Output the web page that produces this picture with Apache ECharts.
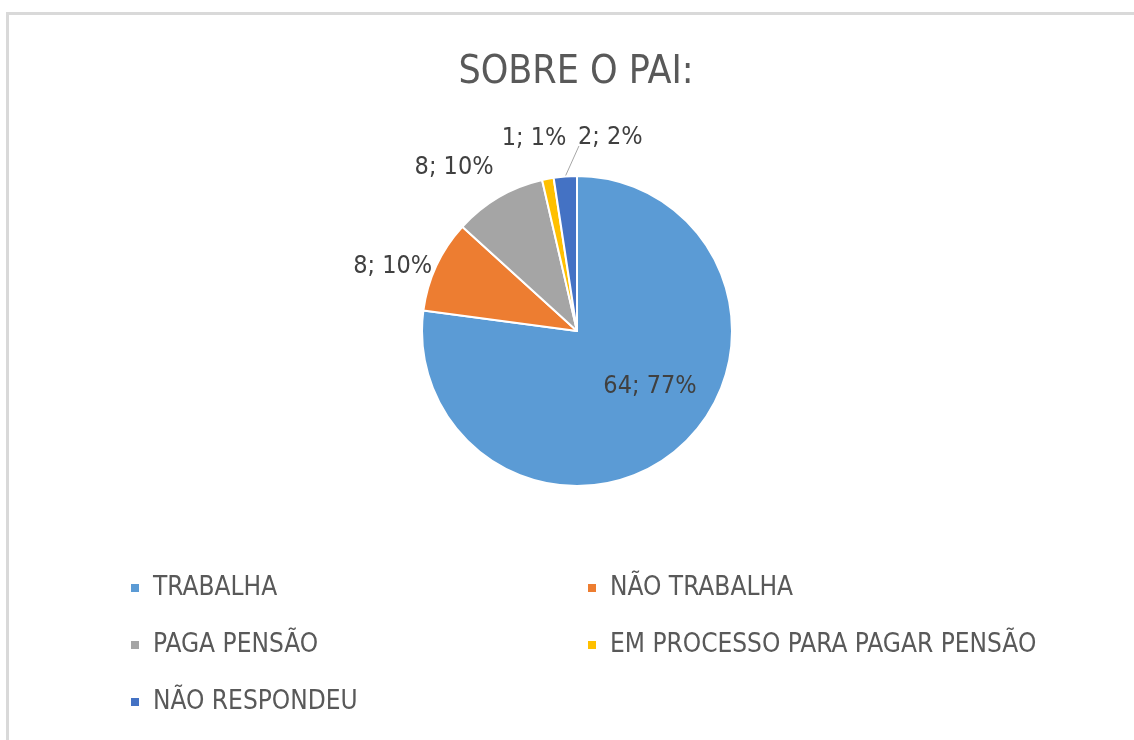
<!DOCTYPE html>
<html>
<head>
<meta charset="utf-8">
<script src="https://cdn.jsdelivr.net/npm/echarts@6/dist/echarts.min.js"></script>
<style>
  html, body { margin: 0; padding: 0; background: #fff; }
  #chart { position: absolute; left: 0; top: 0; width: 1134px; height: 740px; }
  #frame { position: absolute; left: 6px; top: 12px; right: 0; bottom: 0;
           border-top: 3px solid #d9d9d9; border-left: 3px solid #d9d9d9; pointer-events: none; }
</style>
</head>
<body>
<div id="chart"></div>
<div id="frame"></div>
<script>
// dados do gráfico
const categorias = ['TRABALHA', 'NÃO TRABALHA', 'PAGA PENSÃO', 'EM PROCESSO PARA PAGAR PENSÃO', 'NÃO RESPONDEU'];
const valores = [64, 8, 8, 1, 2];
const cores = ['#5B9BD5', '#ED7D31', '#A5A5A5', '#FFC000', '#4472C4'];

const fonte = "'DejaVu Sans Condensed', 'Liberation Sans Narrow', 'DejaVu Sans', sans-serif";

// ajuste fino dos rótulos (estilo "melhor ajuste" do Excel)
const ajusteRotulo = [[20, -5], [12, 4], [8, -23], [29, -32], [87, -31]];

const chart = echarts.init(document.getElementById('chart'));

const dados = categorias.map((nome, i) => {
  const item = { name: nome, value: valores[i], itemStyle: { color: cores[i] } };
  if (i === 0) {
    item.label = { position: 'inside' };
  }
  if (i === 4) {
    item.labelLine = { show: true };
  }
  return item;
});

const legendaBase = {
  orient: 'vertical',
  top: 568,
  icon: 'rect',
  itemWidth: 10,
  itemHeight: 10,
  itemGap: 27,
  textStyle: { fontFamily: fonte, fontSize: 26, color: '#595959', lineHeight: 30, padding: [0, 0, 0, 8] }
};

chart.setOption({
  animation: false,
  title: {
    text: 'SOBRE O PAI:',
    left: 571,
    textAlign: 'center',
    top: 48,
    textStyle: { fontFamily: fonte, fontSize: 39, fontWeight: 'normal', color: '#595959' }
  },
  legend: [
    Object.assign({}, legendaBase, { left: 124, data: [categorias[0], categorias[2], categorias[4]] }),
    Object.assign({}, legendaBase, { left: 581, data: [categorias[1], categorias[3]] })
  ],
  series: [
    {
      type: 'pie',
      center: [577, 331],
      radius: 155,
      startAngle: 90,
      clockwise: true,
      percentPrecision: 0,
      avoidLabelOverlap: false,
      itemStyle: { borderColor: '#fff', borderWidth: 2 },
      label: {
        show: true,
        position: 'outside',
        formatter: '{c}; {d}%',
        fontFamily: fonte,
        fontSize: 25,
        color: '#404040'
      },
      labelLine: { show: false, length: 8, length2: 4, lineStyle: { color: '#a6a6a6', width: 1 } },
      labelLayout: function (p) {
        const a = ajusteRotulo[p.dataIndex];
        const saida = { dx: a[0], dy: a[1] };
        if (p.labelLinePoints) {
          // liga a borda da fatia ao canto inferior esquerdo do rótulo deslocado
          const r = p.labelRect;
          const ini = p.labelLinePoints[0];
          saida.labelLinePoints = [ini, [r.x + a[0] + 1, r.y + a[1] + r.height - 4]];
        }
        return saida;
      },
      data: dados
    }
  ]
});
</script>
</body>
</html>
